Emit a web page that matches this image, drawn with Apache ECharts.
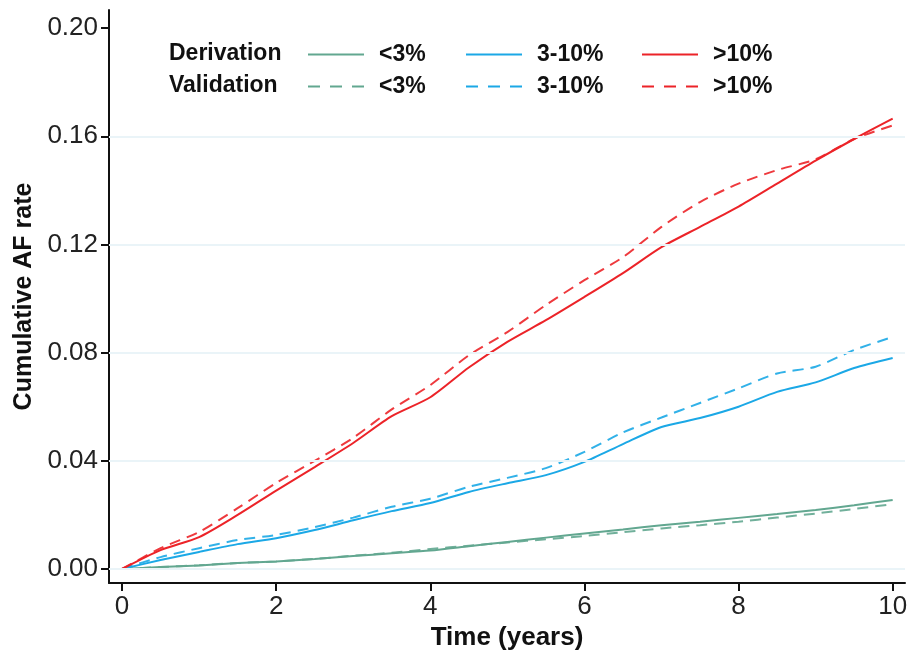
<!DOCTYPE html>
<html>
<head>
<meta charset="utf-8">
<script src="https://cdn.jsdelivr.net/npm/echarts@6/dist/echarts.min.js"></script>
<style>html,body{margin:0;padding:0;background:#fff}#c{width:910px;height:651px}</style>
</head>
<body>
<div id="c"></div>
<script>
// time points (years)
const times = [0,0.5,1,1.5,2,2.5,3,3.5,4,4.5,5,5.5,6,6.5,7,7.5,8,8.5,9,9.5,10];
// Derivation cohort
const derivLow  = [0,0.0007,0.0013,0.0022,0.0028,0.0037,0.0048,0.0058,0.0068,0.0084,0.0100,0.0116,0.0131,0.0146,0.0162,0.0175,0.0189,0.0203,0.0218,0.0236,0.0255];
const derivMid  = [0,0.0033,0.0063,0.0092,0.0114,0.0144,0.0180,0.0214,0.0244,0.0285,0.0317,0.0347,0.0396,0.0462,0.0525,0.0558,0.0600,0.0655,0.0690,0.0743,0.0780];
const derivHigh = [0,0.0070,0.0118,0.0200,0.0290,0.0377,0.0466,0.0565,0.0635,0.0745,0.0840,0.0920,0.1006,0.1094,0.1190,0.1265,0.1340,0.1425,0.1510,0.1590,0.1665];
// Validation cohort
const validLow  = [0,0.0007,0.0014,0.0022,0.0028,0.0037,0.0049,0.0060,0.0074,0.0086,0.0098,0.0110,0.0122,0.0136,0.0150,0.0162,0.0175,0.0190,0.0205,0.0222,0.0240];
const validMid  = [0,0.0044,0.0077,0.0107,0.0126,0.0155,0.0190,0.0230,0.0260,0.0304,0.0337,0.0373,0.0433,0.0505,0.0560,0.0614,0.0668,0.0723,0.0748,0.0810,0.0858];
const validHigh = [0,0.0077,0.0137,0.0225,0.0318,0.0400,0.0485,0.0590,0.0680,0.0790,0.0876,0.0976,0.1068,0.1153,0.1265,0.1357,0.1425,0.1475,0.1515,0.1590,0.1640];
// tick labels
const xTicks = [0,2,4,6,8,10];
const yTicks = [0,0.04,0.08,0.12,0.16,0.20];
const gridValues = [0,0.04,0.08,0.12,0.16];
const groupLabels = ['Derivation','Validation'];
const riskLabels = ['<3%','3-10%','>10%'];

const colors = ['#62a790','#1ba8e6','#ec2328'];
const font = 'Liberation Sans, Arial, sans-serif';

function pairs(ys){ return times.map((t,i)=>[t,ys[i]]); }

const seriesDefs = [
  {name:'Derivation <3%', data:derivLow, c:0, dash:false},
  {name:'Derivation 3-10%', data:derivMid, c:1, dash:false},
  {name:'Derivation >10%', data:derivHigh, c:2, dash:false},
  {name:'Validation <3%', data:validLow, c:0, dash:true},
  {name:'Validation 3-10%', data:validMid, c:1, dash:true},
  {name:'Validation >10%', data:validHigh, c:2, dash:true}
];

const series = seriesDefs.map((s,i)=>({
  name:s.name, type:'line', data:pairs(s.data), symbol:'none', showSymbol:false,
  smooth:0.25,
  color:colors[s.c],
  lineStyle:{color:colors[s.c], width:2, type: s.dash ? [11,7] : 'solid', opacity: s.dash?0.9:1},
  z: s.dash ? 3 : 4,
  animation:false
}));
// gridlines through the library scale
series.push({
  type:'line', data:[], silent:true, animation:false,
  markLine:{symbol:'none', silent:true, label:{show:false},
    lineStyle:{color:'#eaf4f8', width:2, type:'solid'},
    data: gridValues.map(v=>({yAxis:v}))}
});

const legendX = [307,465,641];
const legendY = [43,75];
const legends = [];
seriesDefs.forEach((s,i)=>{
  const row = s.dash?1:0;
  legends.push({
    data:[s.name], left:legendX[s.c], top:legendY[row], padding:0,
    itemWidth:56, itemHeight:24, selectedMode:false,
    itemStyle:{color:'rgba(0,0,0,0)', borderWidth:0, opacity:0},
    lineStyle:{width:2, opacity:1, type: s.dash ? [12,10] : 'solid'},
    formatter:(n)=>n.split(' ')[1],
    textStyle:{fontFamily:font, fontSize:23, fontWeight:'bold', color:'#111', padding:[0,0,0,10]}
  });
});

const chart = echarts.init(document.getElementById('c'), null, {renderer:'canvas'});
chart.setOption({
  backgroundColor:'#fff',
  animation:false,
  grid:{left:109, right:5, top:10, bottom:68, containLabel:false, outerBoundsMode:'none'},
  legend: legends,
  graphic: groupLabels.map((g,i)=>({
    type:'text', left:169, top:legendY[i]-1, z:10,
    style:{text:g, fontFamily:font, fontSize:23, fontWeight:'bold', fill:'#111'}
  })),
  xAxis:{
    type:'value', min:-0.169, max:10.16,
    name:'Time (years)', nameLocation:'middle', nameGap:41,
    nameTextStyle:{fontFamily:font, fontSize:26, fontWeight:'bold', color:'#111'},
    axisLine:{show:true, onZero:false, lineStyle:{color:'#111', width:2}},
    axisTick:{show:true, customValues:xTicks, length:8, lineStyle:{color:'#111', width:2}},
    axisLabel:{customValues:xTicks, margin:11, fontFamily:font, fontSize:26, color:'#222', formatter:v=>String(v)},
    splitLine:{show:false}
  },
  yAxis:{
    type:'value', min:-0.00518, max:0.2067,
    name:'Cumulative AF rate', nameLocation:'middle', nameGap:72, nameRotate:90,
    nameTextStyle:{fontFamily:font, fontSize:25, fontWeight:'bold', color:'#111'},
    axisLine:{show:true, onZero:false, lineStyle:{color:'#111', width:2}},
    axisTick:{show:true, customValues:yTicks, length:8, lineStyle:{color:'#111', width:2}},
    axisLabel:{customValues:yTicks, margin:11, fontFamily:font, fontSize:26, color:'#222', formatter:v=>v.toFixed(2)},
    splitLine:{show:false}
  },
  series: series
});
</script>
</body>
</html>
